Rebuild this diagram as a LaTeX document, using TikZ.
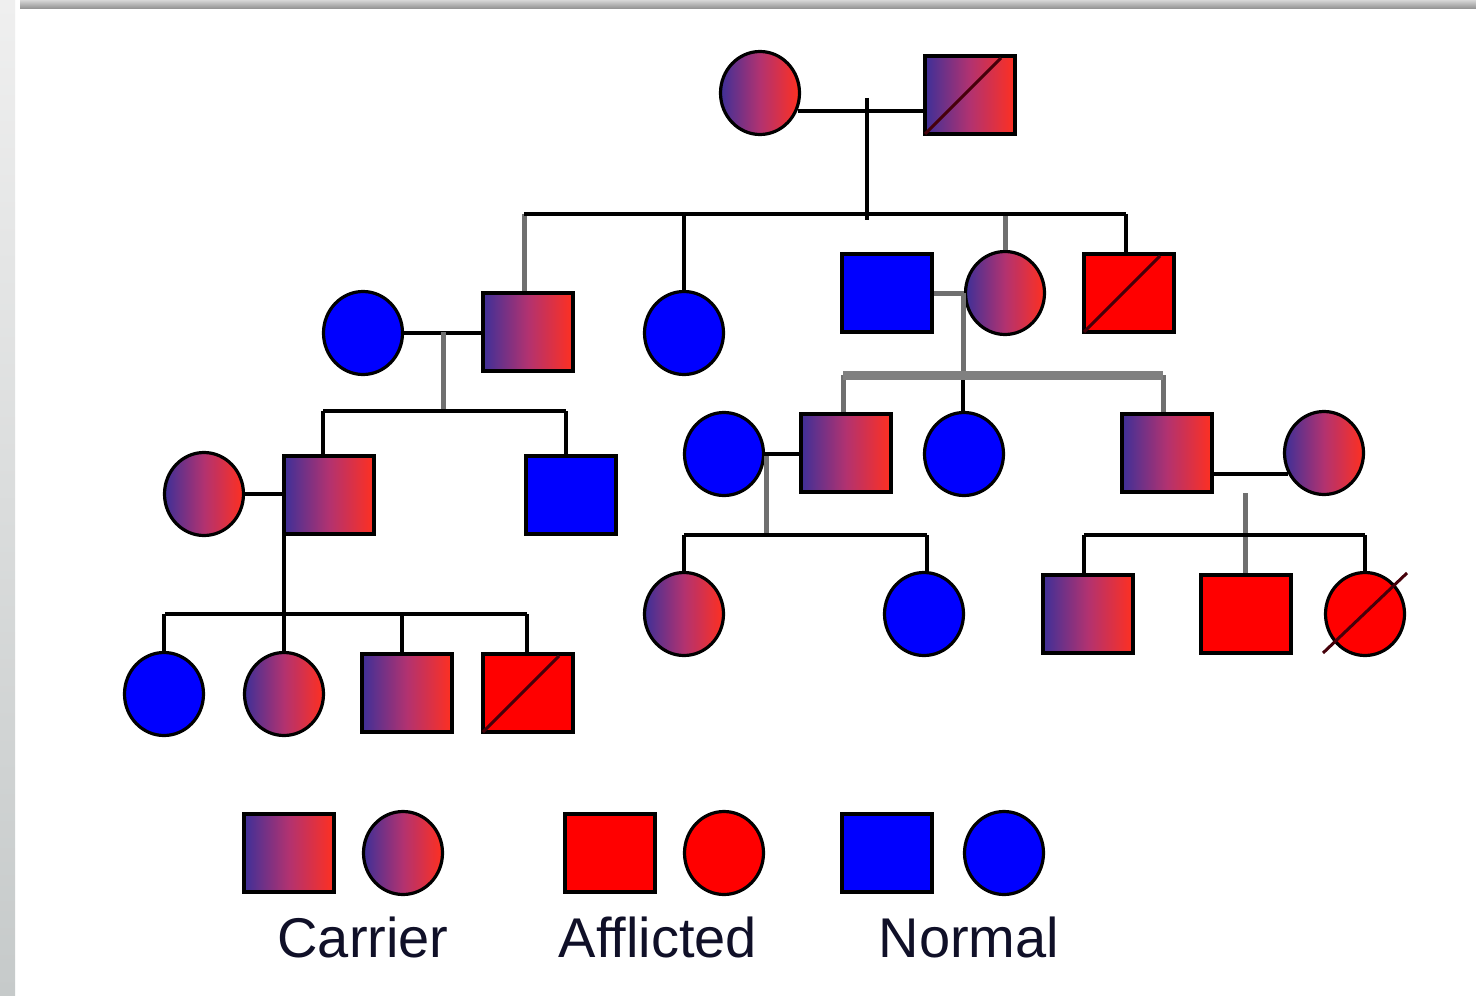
\documentclass[tikz,border=0pt]{standalone}
\usepackage{fontspec}
\setmainfont{Liberation Sans}[Ligatures=NoCommon]
\usetikzlibrary{shapes.geometric,calc}
\definecolor{cblue}{RGB}{62,48,152}
\definecolor{cmid}{RGB}{178,50,112}
\definecolor{cred}{RGB}{255,48,32}
\definecolor{aff}{RGB}{255,0,0}
\definecolor{nor}{RGB}{0,0,255}
\definecolor{gline}{RGB}{112,112,112}
\definecolor{gthickc}{RGB}{128,128,128}
\definecolor{slashc}{RGB}{70,0,10}
\definecolor{txt}{RGB}{16,16,40}
\definecolor{lgtop}{RGB}{239,239,239}
\definecolor{lgbot}{RGB}{198,202,202}
\definecolor{bandtop}{RGB}{214,214,214}
\definecolor{bandbot}{RGB}{142,142,142}
\tikzset{
  sq/.style={rectangle, draw=black, line width=2pt, minimum width=45pt, minimum height=39pt, inner sep=0pt},
  ci/.style={ellipse, draw=black, line width=1.6pt, minimum width=39.5pt, minimum height=41.5pt, inner sep=0pt},
  carrier/.style={left color=cblue, right color=cred, middle color=cmid},
  afflicted/.style={fill=aff},
  normal/.style={fill=nor},
  ln/.style={draw=black, line width=2pt},
  gln/.style={draw=gline, line width=2.5pt},
  gthick/.style={draw=gthickc, line width=4.5pt},
  slashln/.style={draw=slashc, line width=1.5pt},
  lbl/.style={font=\fontsize{28}{34}\selectfont, text=txt, anchor=base, inner sep=0pt},
}
\begin{document}
\begin{tikzpicture}[x=0.5pt,y=-0.5pt]
\useasboundingbox (0,0) rectangle (1476,995);
% background
\fill[white] (0,0) rectangle (1476,995);
\shade[top color=lgtop, bottom color=lgbot] (0,0) rectangle (15,995);
\shade[top color=bandtop, bottom color=bandbot] (20,0) rectangle (1476,9);

% ---------- nodes ----------
% generation 1
\node[ci,carrier] (g1w) at (760,93) {};
\node[sq,carrier] (g1h) at (970,95) {};
% generation 2
\node[ci,normal] (p1) at (363,333) {};
\node[sq,carrier] (a) at (528,332) {};
\node[ci,normal] (b) at (684,333) {};
\node[sq,normal] (p2) at (887,293) {};
\node[ci,carrier] (c) at (1005,293) {};
\node[sq,afflicted] (d) at (1129,293) {};
% generation 3
\node[ci,carrier] (p3) at (204,494) {};
\node[sq,carrier] (a1) at (329,495) {};
\node[sq,normal] (a2) at (571,495) {};
\node[ci,normal] (p4) at (724,454) {};
\node[sq,carrier] (c1) at (846,453) {};
\node[ci,normal] (c2) at (964,454) {};
\node[sq,carrier] (c3) at (1167,453) {};
\node[ci,carrier] (p5) at (1324,453) {};
% generation 4
\node[ci,normal] (a11) at (164,694) {};
\node[ci,carrier] (a12) at (284,694) {};
\node[sq,carrier] (a13) at (407,693) {};
\node[sq,afflicted] (a14) at (528,693) {};
\node[ci,carrier] (c11) at (684,614) {};
\node[ci,normal] (c12) at (924,614) {};
\node[sq,carrier] (c31) at (1088,614) {};
\node[sq,afflicted] (c32) at (1246,614) {};
\node[ci,afflicted] (c33) at (1365,614) {};

% ---------- coordinates ----------
\coordinate (m1t) at (867,98);
\coordinate (m1b) at (867,220);
\coordinate (s2L) at (524,214);
\coordinate (s2R) at (1126,214);
\coordinate (f1) at (443,332);
\coordinate (f1b) at (443,411);
\coordinate (s3L) at (323,411);
\coordinate (s3R) at (566,411);
\coordinate (j4) at (284,614);
\coordinate (s4L) at (165,614);
\coordinate (s4R) at (527,614);
\coordinate (s4c) at (402,614);
\coordinate (f2) at (963,293);
\coordinate (f2b) at (963,375);
\coordinate (s5L) at (843,375);
\coordinate (s5R) at (1163,375);
\coordinate (f3) at (766,456);
\coordinate (f3b) at (766,535);
\coordinate (s6L) at (684,535);
\coordinate (s6R) at (927,535);
\coordinate (f4) at (1245,493);
\coordinate (s7L) at (1084,535);
\coordinate (s7R) at (1365,535);

% ---------- connectors ----------
% gen 1
\draw[ln] (g1w.-25) -- (g1w.-25 -| g1h.west);
\draw[ln] (m1t) -- (m1b);
\draw[gln] (s2L) -- (s2L |- a.north);
\draw[gln] (c.north |- s2L) -- (c.north);
\draw[ln] (s2L) -- (s2R);
\draw[ln] (b.north |- s2L) -- (b.north);
\draw[ln] (s2R) -- (s2R |- d.north);
% family p1 + a
\draw[ln] (p1.east) -- (p1.east -| a.west);
\draw[gln] (f1) -- (f1b);
\draw[ln] (s3L) -- (s3R);
\draw[ln] (s3L) -- (s3L |- a1.north);
\draw[ln] (s3R) -- (s3R |- a2.north);
% family p3 + a1
\draw[ln] (p3.east) -- (p3.east -| a1.west);
\draw[ln] (a1.south west -| j4) -- (j4);
\draw[ln] (s4L) -- (s4R);
\draw[ln] (a11.north |- s4L) -- (a11.north);
\draw[ln] (a12.north |- s4L) -- (a12.north);
\draw[ln] (s4c) -- (s4c |- a13.north);
\draw[ln] (s4R) -- (s4R |- a14.north);
% family p2 + c
\draw[gln] (p2.east) -- (c.west);
\draw[gln] (f2) -- (f2b);
\draw[ln] (f2b) -- (f2b |- c2.north);
\draw[gln] (s5L) -- (s5L |- c1.north);
\draw[gln] (s5R) -- (s5R |- c3.north);
\draw[gthick] (s5L) -- (s5R);
% family p4 + c1
\draw[ln] (p4.east) -- (p4.east -| c1.west);
\draw[gln] (f3) -- (f3b);
\draw[ln] (s6L) -- (s6R);
\draw[ln] (s6L) -- (s6L |- c11.north);
\draw[ln] (s6R) -- (s6R |- c12.north);
% family c3 + p5
\draw[ln] (c3.east |- p5.210) -- (p5.210);
\draw[gln] (f4) -- (f4 |- c32.north);
\draw[ln] (s7L) -- (s7R);
\draw[ln] (s7L) -- (s7L |- c31.north);
\draw[ln] (s7R) -- (c33.north);

% ---------- deceased slashes ----------
\draw[slashln] ([shift={(2,-2)}]g1h.south west) -- ++(76,-76);
\draw[slashln] ([shift={(2,-2)}]d.south west) -- ++(76,-76);
\draw[slashln] ([shift={(2,-2)}]a14.south west) -- ++(76,-76);
\draw[slashln] ([shift={(-42,39)}]c33.center) -- ([shift={(42,-41)}]c33.center);

% ---------- legend ----------
\node[sq,carrier] (l1) at (289,853) {};
\node[ci,carrier] (l2) at (403,853) {};
\node[sq,afflicted] (l3) at (610,853) {};
\node[ci,afflicted] (l4) at (724,853) {};
\node[sq,normal] (l5) at (887,853) {};
\node[ci,normal] (l6) at (1004,853) {};
\node[lbl] (t1) at (363,957) {Carrier};
\node[lbl] (t2) at (658,957) {Afflicted};
\node[lbl] (t3) at (969,957) {Normal};
\end{tikzpicture}
\end{document}
